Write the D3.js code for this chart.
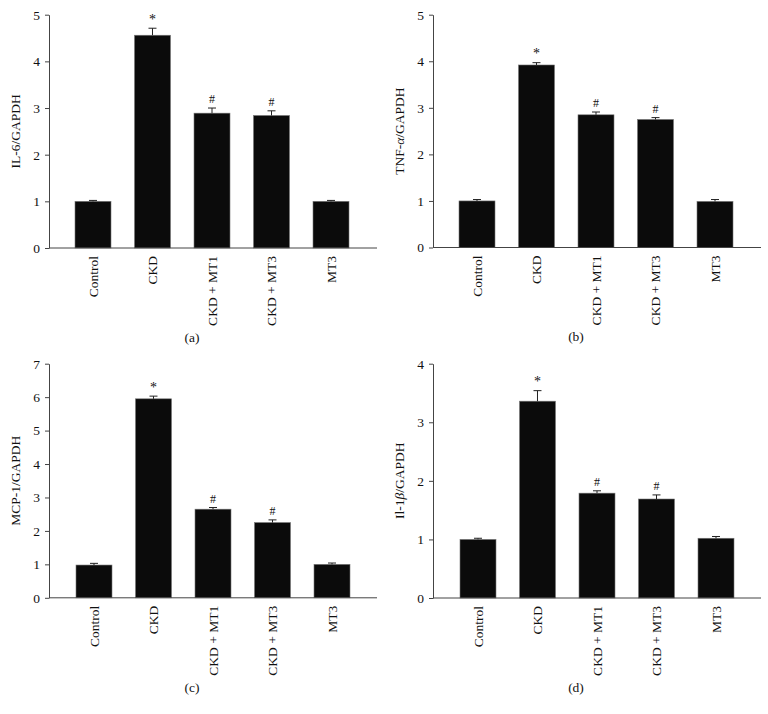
<!DOCTYPE html>
<html><head><meta charset="utf-8">
<script src="https://cdn.jsdelivr.net/npm/d3@7"></script>
<style>body{margin:0;background:#fff}svg{display:block}text{font-family:"Liberation Serif","Times New Roman",serif;fill:#111}</style>
</head><body><svg id="c" width="768" height="714"></svg>
<script>
const categories = ["Control", "CKD", "CKD + MT1", "CKD + MT3", "MT3"];
const marks = ["", "*", "#", "#", ""];
const il6 = [1.0, 4.56, 2.89, 2.84, 1.0];
const il6Err = [0.02, 0.15, 0.11, 0.10, 0.02];
const tnf = [1.0, 3.92, 2.85, 2.75, 0.99];
const tnfErr = [0.03, 0.05, 0.06, 0.04, 0.04];
const mcp = [0.98, 5.95, 2.65, 2.25, 1.0];
const mcpErr = [0.05, 0.08, 0.05, 0.08, 0.04];
const il1b = [1.0, 3.36, 1.79, 1.69, 1.02];
const il1bErr = [0.02, 0.18, 0.04, 0.07, 0.03];
const yMaxes = [5, 5, 7, 4];
const panelLetters = ["(a)", "(b)", "(c)", "(d)"];

const panels = [
  {ox: 0, oy: 0, top: 14.7, bottom: 248, vals: il6, errs: il6Err, yMax: yMaxes[0], letter: panelLetters[0], label: [["IL-6/GAPDH", false]]},
  {ox: 384, oy: 0, top: 14.7, bottom: 247.5, vals: tnf, errs: tnfErr, yMax: yMaxes[1], letter: panelLetters[1], label: [["TNF-", false], ["α", true], ["/GAPDH", false]]},
  {ox: 0, oy: 357, top: 6.7, bottom: 240.8, vals: mcp, errs: mcpErr, yMax: yMaxes[2], letter: panelLetters[2], label: [["MCP-1/GAPDH", false]]},
  {ox: 384, oy: 357, top: 6.7, bottom: 241, vals: il1b, errs: il1bErr, yMax: yMaxes[3], letter: panelLetters[3], label: [["Il-1", false], ["β", true], ["/GAPDH", false]]}
];

const FS = 13.5;
const svg = d3.select("#c");
panels.forEach((p, pi) => {
  const g = svg.append("g").attr("transform", `translate(${p.ox},${p.oy})`);
  const axX = 49;
  const shift = pi >= 2 ? 1 : 0;
  const x = d3.scaleBand().domain(categories).range([75 + shift, 349 + shift]).paddingInner(0.395).paddingOuter(0);
  const y = d3.scaleLinear().domain([0, p.yMax]).range([p.bottom, p.top]);

  g.selectAll("rect.bar").data(categories).enter().append("rect")
    .attr("x", d => x(d)).attr("width", x.bandwidth())
    .attr("y", (d, i) => y(p.vals[i])).attr("height", (d, i) => y(0) - y(p.vals[i]))
    .attr("fill", "#0b0b0b").attr("stroke", "#777").attr("stroke-width", 0.6);

  const eb = g.selectAll("g.err").data(categories).enter().append("g");
  eb.append("line")
    .attr("x1", d => x(d) + x.bandwidth() / 2).attr("x2", d => x(d) + x.bandwidth() / 2)
    .attr("y1", (d, i) => y(p.vals[i])).attr("y2", (d, i) => y(p.vals[i] + p.errs[i]))
    .attr("stroke", "#222").attr("stroke-width", 1);
  eb.append("line")
    .attr("x1", d => x(d) + x.bandwidth() / 2 - 4).attr("x2", d => x(d) + x.bandwidth() / 2 + 4)
    .attr("y1", (d, i) => y(p.vals[i] + p.errs[i])).attr("y2", (d, i) => y(p.vals[i] + p.errs[i]))
    .attr("stroke", "#222").attr("stroke-width", 1);

  g.selectAll("text.mark").data(categories).enter().append("text")
    .attr("x", d => x(d) + x.bandwidth() / 2)
    .attr("y", (d, i) => y(p.vals[i] + p.errs[i]) - (marks[i] === "*" ? 10 : 5))
    .attr("text-anchor", "middle").attr("font-size", (d, i) => marks[i] === "*" ? 14 : 12)
    .attr("dy", (d, i) => marks[i] === "*" ? "0.4em" : "0")
    .text((d, i) => marks[i]);

  const ya = g.append("g").attr("transform", `translate(${axX},0)`)
    .call(d3.axisLeft(y).ticks(p.yMax).tickFormat(d3.format("d")).tickSize(4).tickSizeOuter(0).tickPadding(5));
  ya.select(".domain").attr("stroke", "#444");
  ya.selectAll(".tick line").attr("stroke", "#444");
  ya.selectAll(".tick text").attr("font-size", FS).attr("fill", "#111").attr("font-family", '"Liberation Serif",serif');

  g.append("line").attr("x1", axX).attr("x2", 377).attr("y1", y(0)).attr("y2", y(0))
    .attr("stroke", "#444").attr("stroke-width", 1);

  g.selectAll("text.cat").data(categories).enter().append("text")
    .attr("transform", d => `translate(${x(d) + x.bandwidth() / 2},${y(0) + 8}) rotate(-90)`)
    .attr("text-anchor", "end").attr("dy", "0.35em").attr("font-size", FS)
    .text(d => d);

  const yl = g.append("text")
    .attr("transform", `translate(15,${(p.top + p.bottom) / 2}) rotate(-90)`)
    .attr("text-anchor", "middle").attr("dy", "0.35em").attr("font-size", FS);
  p.label.forEach(([t, it]) => yl.append("tspan").attr("font-style", it ? "italic" : "normal").text(t));

  g.append("text").attr("x", 192).attr("y", p.bottom + 89).attr("text-anchor", "middle")
    .attr("dy", "0.35em").attr("font-size", FS).text(p.letter);
});
</script></body></html>
